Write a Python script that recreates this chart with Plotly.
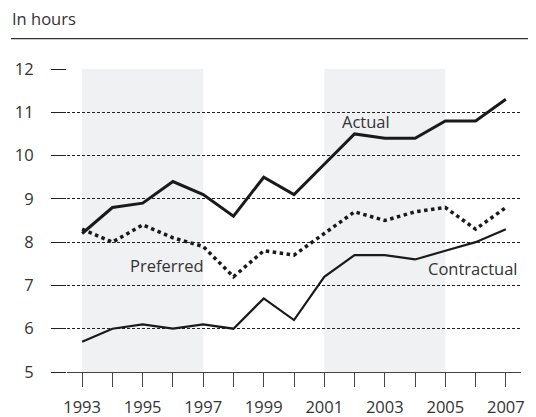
import plotly.graph_objects as go

years = list(range(1993, 2008))
actual = [8.2, 8.8, 8.9, 9.4, 9.1, 8.6, 9.5, 9.1, 9.8, 10.5, 10.4, 10.4, 10.8, 10.8, 11.3]
preferred = [8.3, 8.0, 8.4, 8.1, 7.9, 7.2, 7.8, 7.7, 8.2, 8.7, 8.5, 8.7, 8.8, 8.3, 8.8]
contractual = [5.7, 6.0, 6.1, 6.0, 6.1, 6.0, 6.7, 6.2, 7.2, 7.7, 7.7, 7.6, 7.8, 8.0, 8.3]
shaded_periods = [(1993, 1997), (2001, 2005)]
x_tick_text = [str(y) if y % 2 == 1 else "" for y in years]
y_ticks = [5, 6, 7, 8, 9, 10, 11, 12]

FONT = "Open Sans"
TXT = "#333333"
FS = 16.5

# the page body adds an 8px offset, so the figure is sized to fit the window
W, H = 528, 409

fig = go.Figure()
fig.add_trace(go.Scatter(x=years, y=actual, mode="lines", name="Actual",
                         line=dict(color="#1a1a1a", width=3)))
fig.add_trace(go.Scatter(x=years, y=preferred, mode="lines", name="Preferred",
                         line=dict(color="#1a1a1a", width=3.5, dash="dot")))
fig.add_trace(go.Scatter(x=years, y=contractual, mode="lines", name="Contractual",
                         line=dict(color="#1a1a1a", width=2.2)))

shapes = []
for a, b in shaded_periods:
    shapes.append(dict(type="rect", xref="x", yref="y", x0=a, x1=b, y0=5, y1=12,
                       fillcolor="#f0f1f3", line=dict(width=0), layer="below"))
shapes.append(dict(type="line", xref="paper", yref="paper", x0=-0.1233, x1=1.04,
                   y0=1.100, y1=1.100, layer="above", line=dict(color="#333333", width=1.2)))

annotations = [
    dict(x=2002.37, y=10.79, text="Actual", showarrow=False, xref="x", yref="y",
         font=dict(family=FONT, size=FS, color=TXT)),
    dict(x=1995.8, y=7.45, text="Preferred", showarrow=False, xref="x", yref="y",
         font=dict(family=FONT, size=FS, color=TXT)),
    dict(x=2005.9, y=7.39, text="Contractual", showarrow=False, xref="x", yref="y",
         font=dict(family=FONT, size=FS, color=TXT)),
]

fig.update_layout(
    width=W, height=H,
    margin=dict(l=59, r=15, t=61, b=45, autoexpand=False),
    paper_bgcolor="white", plot_bgcolor="white",
    showlegend=False,
    font=dict(family=FONT, size=FS, color=TXT),
    title=dict(text="In hours", x=4 / W, y=1 - 11 / H, xanchor="left", yanchor="middle",
               xref="container", yref="container", automargin=False,
               font=dict(family=FONT, size=FS, color=TXT)),
    shapes=shapes,
    annotations=annotations,
    xaxis=dict(range=[1992.5, 2007.5], tickmode="array", tickvals=years, ticktext=x_tick_text,
               ticks="outside", ticklen=14, tickcolor="#444444", tickwidth=1, automargin=False,
               showgrid=False, zeroline=False, showline=True, linecolor="#444444", linewidth=1,
               ticklabelstandoff=6, tickfont=dict(family=FONT, size=FS, color=TXT)),
    yaxis=dict(range=[5, 12], tickmode="array", tickvals=y_ticks, automargin=False,
               ticks="outside", ticklen=15, tickcolor="#222222", tickwidth=1,
               showgrid=True, gridcolor="#222222", gridwidth=1, griddash="3px,2px",
               zeroline=False, showline=False,
               ticklabelstandoff=14, tickfont=dict(family=FONT, size=FS, color=TXT)),
)

fig.write_html("out.html")
